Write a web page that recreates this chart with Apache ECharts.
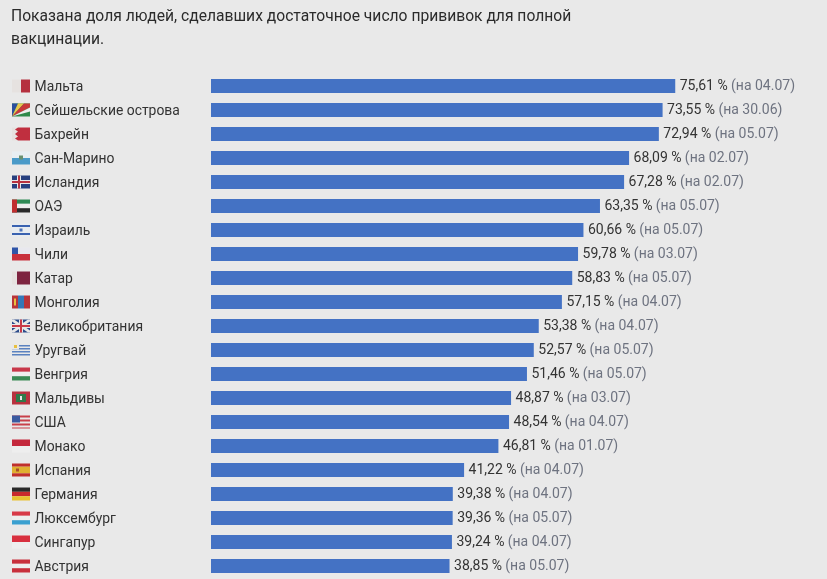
<!DOCTYPE html>
<html><head><meta charset="utf-8">
<style>html,body{margin:0;padding:0;background:#e9e9e9}#c{width:827px;height:579px}</style>
<script src="https://cdn.jsdelivr.net/npm/echarts@6/dist/echarts.min.js"></script>
</head><body><div id="c"></div>
<script>
const titleText = "Показана доля людей, сделавших достаточное число прививок для полной\nвакцинации.";
const countries = ["Мальта","Сейшельские острова","Бахрейн","Сан-Марино","Исландия","ОАЭ","Израиль","Чили","Катар","Монголия","Великобритания","Уругвай","Венгрия","Мальдивы","США","Монако","Испания","Германия","Люксембург","Сингапур","Австрия"];
const shares = [75.61,73.55,72.94,68.09,67.28,63.35,60.66,59.78,58.83,57.15,53.38,52.57,51.46,48.87,48.54,46.81,41.22,39.38,39.36,39.24,38.85];
const dates = ["04.07","30.06","05.07","02.07","02.07","05.07","05.07","03.07","05.07","04.07","04.07","05.07","05.07","03.07","04.07","01.07","04.07","04.07","05.07","04.07","05.07"];
const barColor = "#4472c4";
// flag artwork on an 18×13 canvas: [colour, polygon points...]
const R=(c,x,y,w,h)=>[c,[x,y],[x+w,y],[x+w,y+h],[x,y+h]];
const flagArt = [
 [R("#e6e2e0",0,0,9,13),R("#b5303e",9,0,9,13)],
 [R("#2f8a4a",0,0,18,13),["#2c4f9e",[0,13],[0,0],[6,0]],["#e8c84e",[0,13],[6,0],[12,0]],["#c8383a",[0,13],[12,0],[18,0],[18,4]],["#eeeeee",[0,13],[18,4],[18,8]]],
 [R("#e6e2e0",0,0,6,13),R("#c02f3f",6,0,12,13),["#c02f3f",[3,2],[6,0],[6,4]],["#c02f3f",[3,6.5],[6,4],[6,9]],["#c02f3f",[3,11],[6,9],[6,13]]],
 [R("#e8eef2",0,0,18,6.5),R("#4a9ac8",0,6.5,18,6.5),R("#6a9070",7,4,4,4)],
 [R("#27407f",0,0,18,13),R("#e8e8e8",5,0,4,13),R("#e8e8e8",0,4.5,18,4),R("#b8323f",6,0,2,13),R("#b8323f",0,5.5,18,2)],
 [R("#2f8a55",0,0,18,4.3),R("#eeeeee",0,4.3,18,4.4),R("#2a2a2a",0,8.7,18,4.3),R("#c02f30",0,0,5,13)],
 [R("#e8ecf0",0,0,18,13),R("#3a62b0",0,1.5,18,2),R("#3a62b0",0,9.5,18,2),R("#4f74b8",7.5,5,3,3)],
 [R("#e8e8ee",0,0,18,6.5),R("#c8303c",0,6.5,18,6.5),R("#2f55a8",0,0,6,6.5)],
 [R("#e6e2e0",0,0,5,13),R("#7d2440",5,0,13,13)],
 [R("#b8343a",0,0,6,13),R("#3478b8",6,0,6,13),R("#b8343a",12,0,6,13),R("#e8c040",2,3,2,7)],
 [R("#2a4a8a",0,0,18,13),["#e8e8e8",[0,0],[2,0],[18,11],[18,13],[16,13],[0,2]],["#e8e8e8",[18,0],[18,2],[2,13],[0,13],[0,11],[16,0]],R("#e8e8e8",7,0,4,13),R("#e8e8e8",0,4.5,18,4),R("#c83a48",8,0,2,13),R("#c83a48",0,5.5,18,2)],
 [R("#e8e8e8",0,0,18,13),R("#5a82c0",0,1.5,18,1.5),R("#5a82c0",0,4.5,18,1.5),R("#5a82c0",0,7.5,18,1.5),R("#5a82c0",0,10.5,18,1.5),R("#e8e8e8",0,0,7,6),R("#e8c040",2,1.5,3,3)],
 [R("#c8384a",0,0,18,4.3),R("#eeeeee",0,4.3,18,4.4),R("#3a8a55",0,8.7,18,4.3)],
 [R("#b8323f",0,0,18,13),R("#2f7a4a",4,2.5,10,8),R("#e8e8e8",8,4.5,2,4)],
 [R("#e8e8e8",0,0,18,13),R("#c8404a",0,0,18,2),R("#c8404a",0,4,18,2),R("#c8404a",0,8,18,2),R("#c8404a",0,12,18,1),R("#3a5aa0",0,0,8,7)],
 [R("#c4283c",0,0,18,6.5),R("#eeeeee",0,6.5,18,6.5)],
 [R("#c0302c",0,0,18,3.2),R("#e0b030",0,3.2,18,6.6),R("#c0302c",0,9.8,18,3.2),R("#a85028",4,5,3,3)],
 [R("#2a2a2a",0,0,18,4.3),R("#c8282c",0,4.3,18,4.4),R("#e8c030",0,8.7,18,4.3)],
 [R("#d83a48",0,0,18,4.3),R("#eeeeee",0,4.3,18,4.4),R("#3aa0d0",0,8.7,18,4.3)],
 [R("#d8303f",0,0,18,6.5),R("#eeeeee",0,6.5,18,6.5)],
 [R("#c8303c",0,0,18,4.3),R("#eeeeee",0,4.3,18,4.4),R("#c8303c",0,8.7,18,4.3)]
];

const chart = echarts.init(document.getElementById("c"), null, {renderer:"canvas"});
const FONT = "Roboto";
chart.setOption({
  animation:false,
  backgroundColor:"#e9e9e9",
  title:{text:titleText,left:11,top:5,padding:0,textStyle:{fontFamily:FONT,fontSize:15.65,fontWeight:400,color:"#2b2b2b",lineHeight:23.5}},
  grid:{left:211,top:74,width:614,height:504},
  xAxis:{type:"value",min:0,max:100,show:false},
  yAxis:{type:"category",inverse:true,data:countries,
    axisLine:{show:false},axisTick:{show:false},
    axisLabel:{align:"left",margin:176.5,formatter:v=>"{n|"+v+"}",
      rich:{n:{fontFamily:FONT,fontSize:13.9,color:"#333",padding:[3,0,0,0]}}}},
  series:[
   {type:"bar",data:shares,barWidth:14,itemStyle:{color:barColor},
    label:{show:true,position:"right",distance:4.5,offset:[0,0.5],
      formatter:p=>"{v|"+p.value.toFixed(2).replace(".",",")+" %} {d|(на "+dates[p.dataIndex]+")}",
      rich:{v:{fontFamily:FONT,fontSize:14,color:"#333"},d:{fontFamily:FONT,fontSize:14,color:"#6e7380"}}}},
   {type:"custom",coordinateSystem:"cartesian2d",clip:false,silent:true,z:5,
    data:countries.map((c,i)=>[0,i]),
    encode:{x:0,y:1},
    renderItem:(params,api)=>{
      const i=api.value(1), p=api.coord([0,i]);
      const x0=12,y0=p[1]-6.5;
      const ch=flagArt[i].map(a=>({type:"polygon",shape:{points:a.slice(1).map(q=>[x0+q[0],y0+q[1]])},style:{fill:a[0]}}));
      return {type:"group",children:ch};
    }}
  ]
});
</script></body></html>
